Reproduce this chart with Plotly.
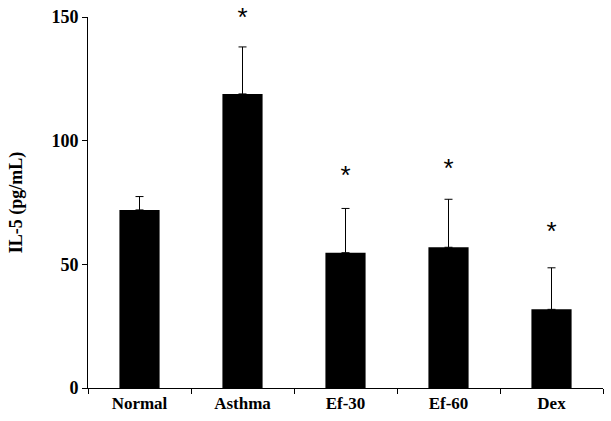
import plotly.graph_objects as go

categories = ["Normal", "Asthma", "Ef-30", "Ef-60", "Dex"]
means = [72.0, 118.9, 54.7, 56.9, 31.8]
sem = [5.4, 19.0, 17.9, 19.4, 16.8]
star_labels = ["", "*", "*", "*", "*"]
star_values = [None, 149, 85.3, 87.8, 62.3]
y_ticks = [0, 50, 100, 150]

fig = go.Figure()
fig.add_trace(go.Bar(
    x=categories, y=means,
    marker=dict(color="black", line=dict(color="black", width=0)),
    width=0.39,
    error_y=dict(type="data", array=sem, symmetric=False, arrayminus=[0]*5,
                 color="black", thickness=1, width=4),
    showlegend=False,
))
fig.add_trace(go.Scatter(
    x=categories, y=star_values, text=star_labels, mode="text",
    textposition="middle center", cliponaxis=False,
    textfont=dict(family="Liberation Sans", size=26, color="black"),
    showlegend=False, hoverinfo="skip",
))

fig.update_layout(
    width=611, height=421,
    margin=dict(l=88, r=8, t=17, b=33),
    paper_bgcolor="white", plot_bgcolor="white",
    font=dict(family="Liberation Serif", color="black"),
    xaxis=dict(
        showline=True, linecolor="black", linewidth=1,
        ticks="outside", tickson="boundaries", ticklen=5, tickcolor="black",
        tickfont=dict(family="Liberation Serif", size=17, color="black", weight="bold"),
        showgrid=False, range=[-0.5, 4.5],
    ),
    yaxis=dict(
        range=[0, 150], tickvals=y_ticks,
        showline=True, linecolor="black", linewidth=1,
        ticks="outside", ticklen=5, tickcolor="black",
        tickfont=dict(family="Liberation Serif", size=18, color="black", weight="bold"),
        showgrid=False, zeroline=False,
        title=dict(text="IL-5 (pg/mL)", standoff=24,
                   font=dict(family="Liberation Serif", size=18, color="black", weight="bold")),
    ),
)
fig.write_html("out.html")
